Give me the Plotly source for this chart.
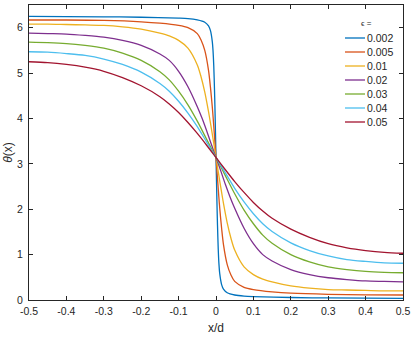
import plotly.graph_objects as go

eps_labels = ["0.002", "0.005", "0.01", "0.02", "0.03", "0.04", "0.05"]
colors = ["#0072BD", "#D95319", "#EDB120", "#7E2F8E", "#77AC30", "#4DBEEE", "#A2142F"]

x_002 = [-0.5, -0.3, -0.2, -0.1, -0.075, -0.05, -0.03, -0.02, -0.015, -0.01, -0.008, -0.006, -0.004, -0.003, -0.002, -0.001,
         0, 0.001, 0.002, 0.003, 0.004, 0.006, 0.008, 0.01, 0.015, 0.02, 0.03, 0.05, 0.075, 0.1, 0.2, 0.3, 0.5]
t_002 = [6.25, 6.24, 6.23, 6.21, 6.20, 6.17, 6.12, 6.04, 5.94, 5.70, 5.50, 5.16, 4.63, 4.30, 3.93, 3.53,
         3.14, 2.75, 2.35, 1.98, 1.65, 1.12, 0.78, 0.58, 0.34, 0.24, 0.16, 0.11, 0.085, 0.075, 0.055, 0.045, 0.035]

x_005 = [-0.5, -0.4, -0.3, -0.2, -0.15, -0.1, -0.075, -0.05, -0.04, -0.03, -0.02, -0.015, -0.01, -0.0075, -0.005, -0.0025,
         0, 0.0025, 0.005, 0.0075, 0.01, 0.015, 0.02, 0.03, 0.04, 0.05, 0.075, 0.1, 0.15, 0.2, 0.3, 0.4, 0.5]
t_005 = [6.17, 6.17, 6.16, 6.13, 6.10, 6.05, 6.00, 5.87, 5.73, 5.50, 5.06, 4.70, 4.26, 4.00, 3.72, 3.43,
         3.14, 2.85, 2.56, 2.28, 2.02, 1.58, 1.22, 0.78, 0.55, 0.41, 0.28, 0.23, 0.18, 0.15, 0.125, 0.115, 0.11]

x_01 = [-0.5, -0.45, -0.4, -0.35, -0.3, -0.25, -0.2, -0.15, -0.125, -0.1, -0.075, -0.05, -0.04, -0.03, -0.02, -0.015, -0.01, -0.005,
        0, 0.005, 0.01, 0.015, 0.02, 0.03, 0.04, 0.05, 0.075, 0.1, 0.125, 0.15, 0.2, 0.25, 0.3, 0.35, 0.4, 0.45, 0.5]
t_01 = [6.08, 6.08, 6.07, 6.06, 6.05, 6.02, 5.97, 5.88, 5.82, 5.72, 5.55, 5.18, 4.92, 4.58, 4.15, 3.91, 3.66, 3.40,
        3.14, 2.88, 2.62, 2.37, 2.13, 1.70, 1.36, 1.10, 0.73, 0.56, 0.46, 0.40, 0.31, 0.26, 0.23, 0.22, 0.21, 0.20, 0.20]

x_02 = [-0.5, -0.45, -0.4, -0.35, -0.3, -0.25, -0.2, -0.15, -0.125, -0.1, -0.075, -0.05, -0.0375, -0.025, -0.0125,
        0, 0.0125, 0.025, 0.0375, 0.05, 0.075, 0.1, 0.125, 0.15, 0.2, 0.25, 0.3, 0.35, 0.4, 0.45, 0.5]
t_02 = [5.88, 5.87, 5.86, 5.83, 5.79, 5.72, 5.61, 5.42, 5.28, 5.04, 4.70, 4.26, 4.01, 3.73, 3.43,
        3.14, 2.85, 2.55, 2.27, 2.02, 1.58, 1.24, 1.00, 0.86, 0.67, 0.56, 0.49, 0.45, 0.42, 0.41, 0.40]

x_03 = [-0.5, -0.45, -0.4, -0.35, -0.3, -0.25, -0.2, -0.15, -0.125, -0.1, -0.075, -0.05, -0.025,
        0, 0.025, 0.05, 0.075, 0.1, 0.125, 0.15, 0.2, 0.25, 0.3, 0.35, 0.4, 0.45, 0.5]
t_03 = [5.68, 5.67, 5.65, 5.61, 5.55, 5.44, 5.28, 5.03, 4.85, 4.60, 4.30, 3.94, 3.54,
        3.14, 2.74, 2.34, 1.98, 1.68, 1.43, 1.25, 1.00, 0.84, 0.73, 0.67, 0.63, 0.61, 0.60]

x_04 = [-0.5, -0.45, -0.4, -0.35, -0.3, -0.25, -0.2, -0.15, -0.125, -0.1, -0.075, -0.05, -0.025,
        0, 0.025, 0.05, 0.075, 0.1, 0.125, 0.15, 0.2, 0.25, 0.3, 0.35, 0.4, 0.45, 0.5]
t_04 = [5.47, 5.46, 5.43, 5.39, 5.31, 5.19, 5.02, 4.77, 4.60, 4.38, 4.12, 3.82, 3.48,
        3.14, 2.80, 2.46, 2.16, 1.90, 1.68, 1.51, 1.26, 1.09, 0.97, 0.89, 0.85, 0.82, 0.81]

x_05 = [-0.5, -0.45, -0.4, -0.35, -0.3, -0.25, -0.2, -0.15, -0.125, -0.1, -0.075, -0.05, -0.025,
        0, 0.025, 0.05, 0.075, 0.1, 0.125, 0.15, 0.2, 0.25, 0.3, 0.35, 0.4, 0.45, 0.5]
t_05 = [5.25, 5.23, 5.19, 5.13, 5.04, 4.90, 4.72, 4.48, 4.32, 4.13, 3.91, 3.67, 3.41,
        3.14, 2.87, 2.61, 2.37, 2.15, 1.96, 1.80, 1.56, 1.38, 1.24, 1.15, 1.09, 1.05, 1.03]

xs = [x_002, x_005, x_01, x_02, x_03, x_04, x_05]
ts = [t_002, t_005, t_01, t_02, t_03, t_04, t_05]

x_tick_vals = [-0.5, -0.4, -0.3, -0.2, -0.1, 0, 0.1, 0.2, 0.3, 0.4, 0.5]
x_tick_text = ["-0.5", "-0.4", "-0.3", "-0.2", "-0.1", "0", "0.1", "0.2", "0.3", "0.4", "0.5"]
y_tick_vals = [0, 1, 2, 3, 4, 5, 6]
y_tick_text = ["0", "1", "2", "3", "4", "5", "6"]
legend_title = "ϵ ="

FONT = "Liberation Sans, Arial, Helvetica, sans-serif"
AX = "#262626"

# plot-area geometry (pixels)
W, H = 415, 340
ML, MR, MT, MB = 29, 12, 5, 40
PW, PH = W - ML - MR, H - MT - MB


def px_to_paper_x(px):
    return (px - ML) / PW


def py_to_paper_y(py):
    return (H - MB - py) / PH


fig = go.Figure()
for lab, c, x, t in zip(eps_labels, colors, xs, ts):
    fig.add_trace(go.Scatter(x=x, y=t, mode="lines", name=lab, showlegend=False,
                             line=dict(color=c, width=1.3, shape="spline", smoothing=0.8)))

# legend drawn as small line samples + labels (compact MATLAB-style spacing)
shapes, annotations = [], []
row0, step = 38, 14
for i, (lab, c) in enumerate(zip(eps_labels, colors)):
    yp = py_to_paper_y(row0 + step * i)
    shapes.append(dict(type="line", xref="paper", yref="paper",
                       x0=px_to_paper_x(345), x1=px_to_paper_x(365), y0=yp, y1=yp,
                       line=dict(color=c, width=1.3)))
    annotations.append(dict(xref="paper", yref="paper", x=px_to_paper_x(365), y=yp,
                            xanchor="left", yanchor="middle", showarrow=False, text=lab,
                            font=dict(family=FONT, size=10.5, color=AX)))
annotations.append(dict(xref="paper", yref="paper", x=px_to_paper_x(366), y=py_to_paper_y(23),
                        xanchor="center", yanchor="middle", showarrow=False, text=legend_title,
                        font=dict(family=FONT, size=8, color=AX)))

axis_common = dict(showgrid=False, zeroline=False, showline=True, linecolor=AX, linewidth=1,
                   mirror="ticks", ticks="inside", ticklen=4, tickcolor=AX, automargin=False,
                   tickfont=dict(family=FONT, size=10.5, color=AX))

fig.update_layout(
    template="none",
    width=W, height=H,
    margin=dict(l=ML, r=MR, t=MT, b=MB, pad=0),
    paper_bgcolor="white", plot_bgcolor="white",
    font=dict(family=FONT, color=AX),
    showlegend=False,
    shapes=shapes, annotations=annotations,
    xaxis=dict(range=[-0.5, 0.5], tickvals=x_tick_vals, ticktext=x_tick_text,
               ticklabelstandoff=1,
               title=dict(text="x/d", standoff=8, font=dict(family=FONT, size=12, color=AX)),
               **axis_common),
    yaxis=dict(range=[0, 6.5], tickvals=y_tick_vals, ticktext=y_tick_text,
               ticklabelstandoff=3,
               title=dict(text="<i>θ</i>(x)", standoff=1, font=dict(family=FONT, size=12, color=AX)),
               **axis_common),
)

fig.write_html("out.html", config={"displayModeBar": False},
               post_script="document.body.style.margin='0';document.body.style.overflow='hidden';")
